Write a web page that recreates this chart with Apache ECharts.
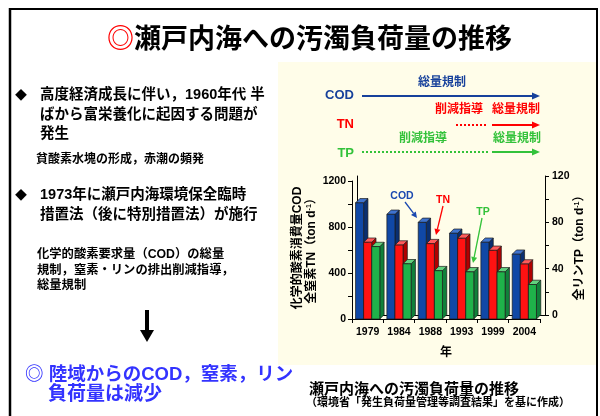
<!DOCTYPE html>
<html>
<head>
<meta charset="utf-8">
<script src="https://cdn.jsdelivr.net/npm/echarts@6/dist/echarts.min.js"></script>
<style>html,body{margin:0;padding:0;background:#fff;}#c{width:600px;height:416px;}</style>
</head>
<body>
<div id="c"></div>
<script>
// ---- data ----
const years = ['1979', '1984', '1988', '1993', '1999', '2004'];
const codLoad = [1010, 910, 840, 745, 667, 563];   // ton/d (left axis)
const tnLoad  = [667, 643, 655, 702, 597, 478];    // ton/d (left axis)
const tpLoad  = [63, 48, 42, 41, 41, 30];          // ton/d (right axis)
const leftMax = 1200, leftStep = 200, leftLabelStep = 400;
const rightMax = 120, rightStep = 20, rightLabelStep = 40;

const F = "'Liberation Sans','Noto Sans CJK JP',sans-serif";
const J = "'Noto Sans CJK JP','Liberation Sans',sans-serif";

function txt(x, y, text, size, color, align, family) {
  return {
    type: 'text', x: x, y: y, z: 20,
    style: {
      text: text, font: 'bold ' + size + 'px ' + (family || F), fill: color,
      textAlign: align || 'left', align: align || 'left',
      textVerticalAlign: 'middle', verticalAlign: 'middle'
    }
  };
}
function line(x1, y1, x2, y2, color, w, dash) {
  const s = { stroke: color, lineWidth: w };
  if (dash) s.lineDash = dash;
  return { type: 'line', z: 20, shape: { x1, y1, x2, y2 }, style: s };
}
function poly(points, color) {
  return { type: 'polygon', z: 20, shape: { points }, style: { fill: color } };
}
function arrow(x1, y1, x2, y2, color) {
  const a = Math.atan2(y2 - y1, x2 - x1), L = 6, W = 3;
  const bx = x2 - L * Math.cos(a), by = y2 - L * Math.sin(a);
  const nx = -Math.sin(a) * W, ny = Math.cos(a) * W;
  return [line(x1, y1, bx, by, color, 1.3),
          poly([[x2, y2], [bx + nx, by + ny], [bx - nx, by - ny]], color)];
}

function bar3d(slot, front, topC, side) {
  return function (params, api) {
    const cat = api.value(0), val = api.value(1);
    const p0 = api.coord([cat, 0]);
    const p1 = api.coord([cat, val]);
    const band = api.size([1, 0])[0];
    const bw = band * 0.258;
    const x0 = p0[0] - 1.5 * bw + slot * bw;
    const top = p1[1], bottom = p0[1];
    const dx = 4.3, dy = 4.3;
    const ol = { stroke: '#1a1a1a', lineWidth: 0.7 };
    return {
      type: 'group',
      children: [
        { type: 'polygon', shape: { points: [[x0 + bw, top], [x0 + bw + dx, top - dy], [x0 + bw + dx, bottom - dy], [x0 + bw, bottom]] },
          style: Object.assign({ fill: side }, ol) },
        { type: 'polygon', shape: { points: [[x0, top], [x0 + dx, top - dy], [x0 + bw + dx, top - dy], [x0 + bw, top]] },
          style: Object.assign({ fill: topC }, ol) },
        { type: 'rect', shape: { x: x0, y: top, width: bw, height: bottom - top },
          style: Object.assign({ fill: front }, ol) }
      ]
    };
  };
}

const toPairs = arr => arr.map((v, i) => [i, v]);

const blue = '#17419b', red = '#ff0000', green = '#33c23a';
const graphics = [
  // cream panel
  { type: 'rect', z: -10, shape: { x: 278, y: 62, width: 318, height: 303 }, style: { fill: '#fffde9' } },
  // frame
  line(9, 9, 597, 9, '#000', 2),
  line(10, 8, 10, 416, '#000', 2.5),
  line(597, 8, 597, 416, '#000', 2),
  // title
  txt(107, 38, '◎', 27, '#ff0000', 'left', J),
  txt(134, 38, '瀬戸内海への汚濁負荷量の推移', 27, '#000', 'left', J),
  // left texts
  txt(21, 95, '◆', 12, '#000', 'center', J),
  txt(40, 95, '高度経済成長に伴い，1960年代 半', 14.5, '#000'),
  txt(40, 115, 'ばから富栄養化に起因する問題が', 14.5, '#000'),
  txt(40, 134, '発生', 14.5, '#000'),
  txt(36, 160, '貧酸素水塊の形成，赤潮の頻発', 12, '#000'),
  txt(21, 195, '◆', 12, '#000', 'center', J),
  txt(40, 195, '1973年に瀬戸内海環境保全臨時', 14.5, '#000'),
  txt(40, 215, '措置法（後に特別措置法）が施行', 14.5, '#000'),
  txt(37, 255, '化学的酸素要求量（COD）の総量', 12.3, '#000'),
  txt(37, 271, '規制，窒素・リンの排出削減指導，', 12.3, '#000'),
  txt(37, 286, '総量規制', 12.3, '#000'),
  { type: 'rect', z: 20, shape: { x: 145, y: 310, width: 4, height: 21 }, style: { fill: '#000' } },
  poly([[140, 330], [154, 330], [147, 342]], '#000'),
  txt(25, 375, '◎ 陸域からのCOD，窒素，リン', 18.5, '#3333ff'),
  txt(48, 395, '負荷量は減少', 19, '#3333ff'),
  // bottom caption
  txt(309, 390, '瀬戸内海への汚濁負荷量の推移', 15, '#000'),
  txt(306, 403, '（環境省「発生負荷量管理等調査結果」を基に作成）', 11, '#000'),
  // regulation timeline
  txt(354, 95, 'COD', 13, blue, 'right'),
  txt(354, 124, 'TN', 13, red, 'right'),
  txt(354, 153, 'TP', 13, green, 'right'),
  txt(442, 83, '総量規制', 12, blue, 'center'),
  txt(459, 110, '削減指導', 12, red, 'center'),
  txt(516, 110, '総量規制', 12, red, 'center'),
  txt(423, 139, '削減指導', 12, green, 'center'),
  txt(517, 139, '総量規制', 12, green, 'center'),
  line(362, 96, 534, 96, blue, 2),
  poly([[532, 92.5], [540, 96], [532, 99.5]], blue),
  line(456, 125, 488, 125, red, 2, [2, 2]),
  line(492, 125, 534, 125, red, 2),
  poly([[532, 121.5], [540, 125], [532, 128.5]], red),
  line(362, 152, 489, 152, green, 2, [2, 2]),
  line(492, 152, 534, 152, green, 2),
  poly([[532, 148.5], [540, 152], [532, 155.5]], green),
  // in-chart annotations
  txt(402, 196, 'COD', 10.5, '#1a48b0', 'center'),
  txt(443, 200, 'TN', 10.5, red, 'center'),
  txt(483, 212, 'TP', 10.5, green, 'center'),
  ...arrow(405, 202, 417, 218, '#1a48b0'),
  ...arrow(443, 206, 436, 235, red),
  ...arrow(482, 218, 473, 263, green),
  // axis titles
  { type: 'group', x: 305, y: 248, rotation: Math.PI / 2, z: 20, children: [
    { type: 'text', x: 0, y: -7, z: 20, style: { text: '化学的酸素消費量COD', font: 'bold 12px ' + F, fill: '#000',
      textAlign: 'center', align: 'center', textVerticalAlign: 'middle', verticalAlign: 'middle' } },
    { type: 'text', x: 0, y: 7, z: 20, style: { text: '{n|全窒素TN（ton d}{s|-1}{n|）}', fill: '#000',
      textAlign: 'center', align: 'center', textVerticalAlign: 'middle', verticalAlign: 'middle',
      rich: { n: { font: 'bold 12px ' + F, fill: '#000', color: '#000' },
              s: { font: 'bold 7px ' + F, fill: '#000', color: '#000', padding: [0, 0, 6, 0] } } } }
  ]},
  { type: 'group', x: 580, y: 245, rotation: Math.PI / 2, z: 20, children: [
    { type: 'text', x: 0, y: 0, z: 20, style: { text: '{n|全リンTP（ton d}{s|-1}{n|）}', fill: '#000',
      textAlign: 'center', align: 'center', textVerticalAlign: 'middle', verticalAlign: 'middle',
      rich: { n: { font: 'bold 12px ' + F, fill: '#000', color: '#000' },
              s: { font: 'bold 7px ' + F, fill: '#000', color: '#000', padding: [0, 0, 6, 0] } } } }
  ]}
];

const chart = echarts.init(document.getElementById('c'), null, { renderer: 'canvas' });
const axisFont = { fontFamily: F, fontWeight: 'bold', fontSize: 10.5, color: '#000' };
chart.setOption({
  animation: false,
  backgroundColor: '#fff',
  grid: [
    { left: 352, top: 181, width: 188, height: 138 },
    { left: 357, top: 176, width: 188, height: 139 }
  ],
  xAxis: [
    { gridIndex: 0, type: 'category', data: years,
      axisLine: { lineStyle: { color: '#000', width: 1 } },
      axisTick: { show: true, length: 4, lineStyle: { color: '#000' } },
      axisLabel: Object.assign({ margin: 8 }, axisFont),
      name: '年', nameLocation: 'middle', nameGap: 28,
      nameTextStyle: { fontFamily: F, fontWeight: 'bold', fontSize: 12, color: '#000' } },
    { gridIndex: 1, type: 'category', data: years,
      axisLine: { lineStyle: { color: '#000', width: 1 } },
      axisTick: { show: false }, axisLabel: { show: false } }
  ],
  yAxis: [
    { gridIndex: 0, type: 'value', min: 0, max: leftMax, interval: leftStep, position: 'left',
      axisLine: { show: true, lineStyle: { color: '#000' } },
      axisTick: { show: true, length: 4, lineStyle: { color: '#000' } },
      splitLine: { show: false },
      axisLabel: Object.assign({ margin: 6, formatter: v => (v % leftLabelStep === 0 ? String(v) : '') }, axisFont) },
    { gridIndex: 0, type: 'value', min: 0, max: rightMax, show: false, splitLine: { show: false } },
    { gridIndex: 1, type: 'value', min: 0, max: rightMax, interval: rightStep, position: 'right',
      axisLine: { show: true, lineStyle: { color: '#000' } },
      axisTick: { show: true, length: 4, lineStyle: { color: '#000' } },
      splitLine: { show: false },
      axisLabel: Object.assign({ margin: 7, formatter: v => (v % rightLabelStep === 0 ? String(v) : '') }, axisFont) },
    { gridIndex: 1, type: 'value', min: 0, max: rightMax, position: 'left',
      axisLine: { show: true, lineStyle: { color: '#000' } },
      axisTick: { show: false }, axisLabel: { show: false }, splitLine: { show: false } }
  ],
  series: [
    { type: 'custom', name: 'COD', xAxisIndex: 0, yAxisIndex: 0, data: toPairs(codLoad), encode: { x: 0, y: 1 },
      renderItem: bar3d(0, '#1048a6', '#3f73cf', '#0a2f70'), z: 3 },
    { type: 'custom', name: 'TN', xAxisIndex: 0, yAxisIndex: 0, data: toPairs(tnLoad), encode: { x: 0, y: 1 },
      renderItem: bar3d(1, '#ff1212', '#ff5a5a', '#b00000'), z: 4 },
    { type: 'custom', name: 'TP', xAxisIndex: 0, yAxisIndex: 1, data: toPairs(tpLoad), encode: { x: 0, y: 1 },
      renderItem: bar3d(2, '#1fb24a', '#62d27e', '#10803a'), z: 5 }
  ],
  graphic: graphics
});
</script>
</body>
</html>
